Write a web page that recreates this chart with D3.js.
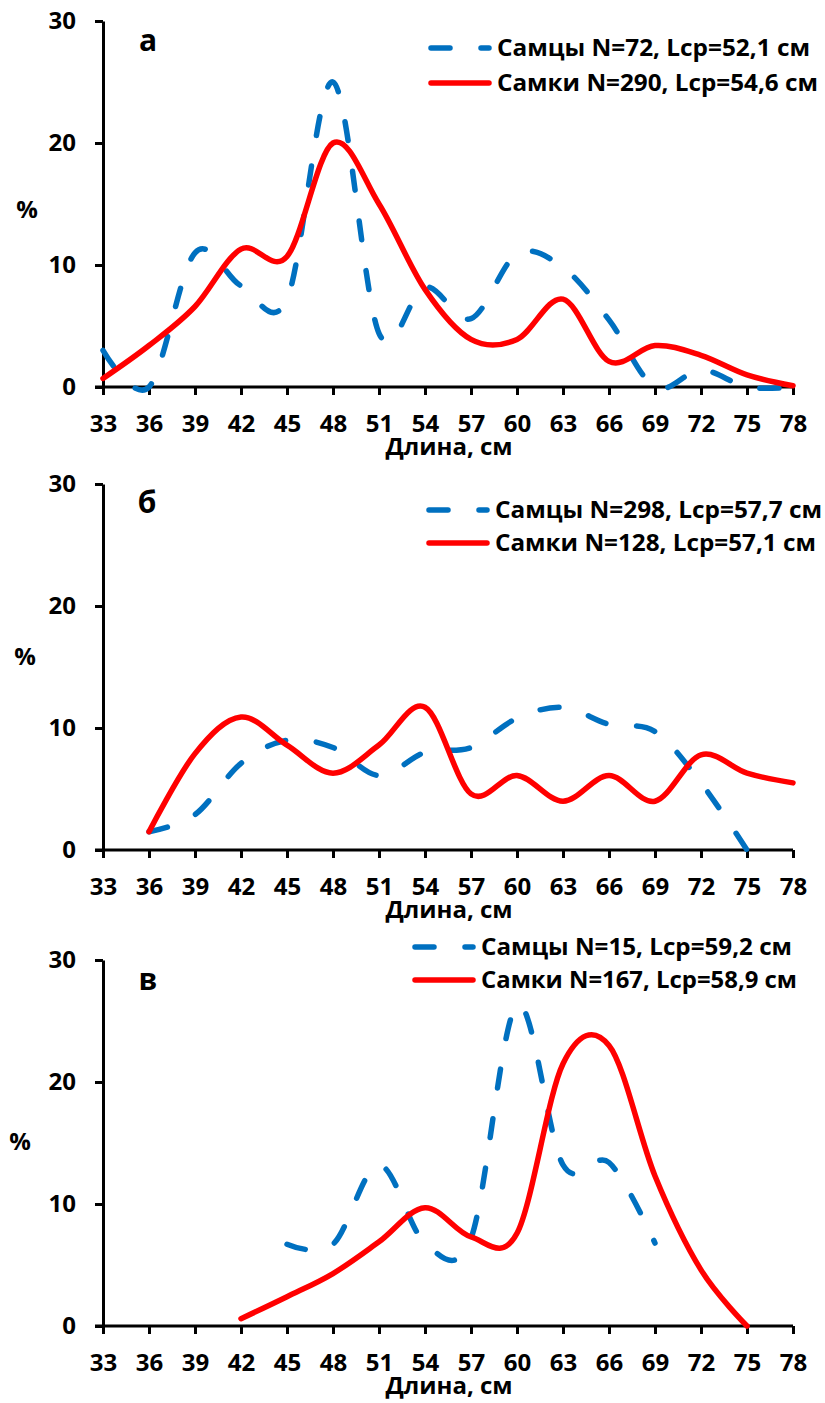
<!DOCTYPE html>
<html>
<head>
<meta charset="utf-8">
<script src="https://cdn.jsdelivr.net/npm/d3@7"></script>
<style>
  body { margin: 0; background: #fff; }
  text { font-family: "Open Sans", sans-serif; font-weight: bold; fill: #000; }
</style>
</head>
<body>
<script>
// длины, см (подписи оси X)
const lengths = [33, 36, 39, 42, 45, 48, 51, 54, 57, 60, 63, 66, 69, 72, 75, 78];
const yTicks = [0, 10, 20, 30];

// а
const malesA   = [3, 0, 11, 8.3, 7.2, 25, 4.4, 8.2, 5.6, 10.9, 9.8, 5.5, 0, 1.4, 0, 0];
const femalesA = [0.7, 3.4, 6.6, 11.3, 10.7, 20, 15, 8, 3.9, 3.9, 7.2, 2.1, 3.4, 2.6, 1, 0.1];
// б
const malesB   = [null, 1.5, 2.9, 7.1, 9, 8.4, 6.1, 8, 8.4, 10.8, 11.7, 10.3, 9.7, 5.5, 0, null];
const femalesB = [null, 1.5, 7.9, 10.9, 8.6, 6.3, 8.6, 11.7, 4.6, 6.1, 4, 6.1, 4, 7.8, 6.3, 5.5];
// в
const malesC   = [null, null, null, null, 6.7, 6.7, 13.2, 6.8, 7.2, 26.3, 13.2, 13.4, 6.8, null, null, null];
const femalesC = [null, null, null, 0.6, 2.4, 4.3, 6.9, 9.7, 7.3, 7.6, 21.5, 23, 12.3, 4.6, 0, null];

const letters = ["а", "б", "в"];
const maleLabels = ["Самцы N=72, Lср=52,1 см", "Самцы N=298, Lср=57,7 см", "Самцы N=15, Lср=59,2 см"];
const femaleLabels = ["Самки N=290, Lср=54,6 см", "Самки N=128, Lср=57,1 см", "Самки N=167, Lср=58,9 см"];

const W = 825, H = 1403;
const svg = d3.select("body").append("svg").attr("width", W).attr("height", H);

const x = d3.scaleLinear().domain([33, 78]).range([103, 793]);

// раскладка панелей; lw — ширина подписей легенды
const panels = [
  { top: 21,  bottom: 387,  males: malesA, females: femalesA, pct: [27, 210],  letter: [148, 40],  leg: [431, 48, 83],   lw: [313, 321] },
  { top: 484, bottom: 850,  males: malesB, females: femalesB, pct: [25, 657],  letter: [147, 502], leg: [429, 510, 543], lw: [327, 321] },
  { top: 960, bottom: 1326, males: malesC, females: femalesC, pct: [20, 1142], letter: [148, 979], leg: [415, 947, 980], lw: [311, 316] }
];

const blue = "#0070c0", red = "#ff0000";

panels.forEach((p, i) => {
  const y = d3.scaleLinear().domain([0, 30]).range([p.bottom, p.top]);
  const g = svg.append("g");

  const line = d3.line()
    .defined(d => d[1] != null)
    .x(d => x(d[0]))
    .y(d => y(d[1]))
    .curve(d3.curveCardinal.tension(0));

  // оси
  const xAxis = g.append("g")
    .attr("transform", `translate(0,${p.bottom})`)
    .call(d3.axisBottom(x).tickValues(lengths).tickSize(8).tickPadding(20).tickSizeOuter(0));
  xAxis.select(".domain").attr("stroke-width", 3).attr("d", `M95,0H${x(78)}`);
  xAxis.selectAll(".tick line").attr("stroke-width", 3);
  xAxis.selectAll(".tick text").attr("font-size", 24).attr("font-family", "Open Sans").attr("font-weight", "bold");

  const yAxis = g.append("g")
    .attr("transform", `translate(${x(33)},0)`)
    .call(d3.axisLeft(y).tickValues(yTicks).tickSize(8).tickPadding(19).tickSizeOuter(0));
  yAxis.select(".domain").attr("stroke-width", 3);
  yAxis.selectAll(".tick line").attr("stroke-width", 3);
  yAxis.selectAll(".tick text").attr("font-size", 24).attr("font-family", "Open Sans").attr("font-weight", "bold");

  g.append("text").attr("x", 449).attr("y", p.bottom + 68)
    .attr("text-anchor", "middle").attr("font-size", 24).text("Длина, см");
  g.append("text").attr("x", p.pct[0]).attr("y", p.pct[1]).attr("dy", "0.35em")
    .attr("text-anchor", "middle").attr("font-size", 24).text("%");
  g.append("text").attr("x", p.letter[0]).attr("y", p.letter[1]).attr("dy", "0.35em")
    .attr("text-anchor", "middle").attr("font-size", 30).text(letters[i]);

  // кривые
  g.append("path").datum(lengths.map((l, k) => [l, p.males[k]]))
    .attr("d", line).attr("fill", "none").attr("stroke", blue)
    .attr("stroke-width", 5.5).attr("stroke-linecap", "round")
    .attr("stroke-dasharray", "19,31");
  g.append("path").datum(lengths.map((l, k) => [l, p.females[k]]))
    .attr("d", line).attr("fill", "none").attr("stroke", red)
    .attr("stroke-width", 5.5).attr("stroke-linecap", "round");

  // легенда
  const lx = p.leg[0];
  g.append("line").attr("x1", lx).attr("x2", lx + 58).attr("y1", p.leg[1]).attr("y2", p.leg[1])
    .attr("stroke", blue).attr("stroke-width", 5.5).attr("stroke-linecap", "round")
    .attr("stroke-dasharray", "19,31");
  g.append("line").attr("x1", lx).attr("x2", lx + 58).attr("y1", p.leg[2]).attr("y2", p.leg[2])
    .attr("stroke", red).attr("stroke-width", 5.5).attr("stroke-linecap", "round");
  g.append("text").attr("x", lx + 66).attr("y", p.leg[1]).attr("dy", "0.35em")
    .attr("font-size", 24).attr("textLength", p.lw[0]).attr("lengthAdjust", "spacingAndGlyphs")
    .text(maleLabels[i]);
  g.append("text").attr("x", lx + 66).attr("y", p.leg[2]).attr("dy", "0.35em")
    .attr("font-size", 24).attr("textLength", p.lw[1]).attr("lengthAdjust", "spacingAndGlyphs")
    .text(femaleLabels[i]);
});
</script>
</body>
</html>
